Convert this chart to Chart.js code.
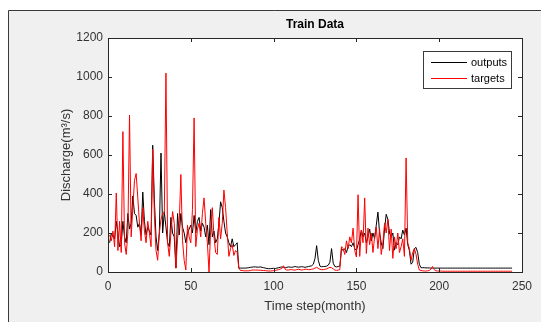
<!DOCTYPE html>
<html>
<head>
<meta charset="utf-8">
<script src="https://cdn.jsdelivr.net/npm/chart.js@4.4.1/dist/chart.umd.min.js"></script>
<style>
  html, body { margin: 0; padding: 0; background: #fff; }
  #wrap { width: 541px; height: 322px; }
</style>
</head>
<body>
<div id="wrap"><canvas id="myChart" width="541" height="322"></canvas></div>
<script>
// month index (x axis)
var months = [];
for (var i = 1; i <= 244; i++) months.push(i);

var xTicks = [0, 50, 100, 150, 200, 250];
var yTicks = [0, 200, 400, 600, 800, 1000, 1200];

// black line: model outputs
var outputs = [
  150,200,180,170,260,200,130,140,260,180,
  150,300,220,250,390,300,290,230,250,190,
  410,260,190,230,210,190,650,370,180,110,
  200,610,200,310,230,150,130,280,200,180,
  20,300,190,300,230,200,150,200,220,240,
  200,290,200,260,280,210,250,230,180,240,
  140,320,180,210,150,170,250,360,330,260,
  200,180,150,130,170,130,140,150,20,
  20,20,20,20,21,22,24,25,26,26,
  25,25,26,24,22,20,18,17,17,18,
  19,18,20,22,24,26,24,22,24,26,
  25,24,26,28,26,25,26,27,26,24,
  26,28,30,32,40,70,135,60,30,27,
  28,28,30,35,50,120,45,28,26,28,
  30,
  120,110,120,100,130,140,130,150,120,110,
  140,170,215,180,200,150,180,220,160,200,
  170,240,307,200,150,120,220,296,270,200,
  180,200,112,150,140,180,170,215,190,225,
  140,110,40,50,120,126,100,40,
  22,22,22,21,21,21,20,20,20,20,
  20,20,20,20,20,20,20,20,20,20,
  20,20,20,20,20,20,20,20,20,20,
  20,20,20,20,20,20,20,20,20,20,
  20,20,20,20,20,20,20,20,20,20,
  20,20,20,20,20,20
];

// red line: observed targets
var targets = [
  190,160,210,130,405,110,260,100,720,150,
  90,200,805,180,330,470,505,380,250,160,
  330,210,150,260,200,130,630,290,110,60,
  200,270,300,300,1020,150,80,200,310,250,
  20,170,250,500,160,60,10,240,180,150,
  320,790,130,220,250,180,300,380,250,150,
  0,220,330,180,100,90,280,170,250,420,
  330,200,80,120,140,85,110,100,20,
  8,8,6,6,6,6,8,10,10,10,
  10,9,9,8,8,7,6,5,5,6,
  7,8,10,12,15,18,32,14,10,10,
  12,12,10,10,12,14,12,10,12,14,
  14,12,12,14,16,20,24,18,14,12,
  12,14,16,20,24,22,16,10,8,10,
  12,
  130,120,90,160,120,180,150,225,110,77,
  396,80,215,150,380,95,225,140,200,100,
  180,230,120,220,90,150,250,200,270,110,
  220,70,180,120,200,100,130,170,80,585,
  150,120,60,100,120,90,40,10,
  8,6,5,5,6,8,14,28,12,6,
  5,5,5,4,4,4,4,4,4,4,
  4,4,4,4,4,4,4,4,4,4,
  4,4,4,4,4,4,4,4,4,4,
  4,4,4,4,4,4,4,4,4,4,
  4,4,4,4,4,4
];

var fontFamily = '"Liberation Sans", Arial, Helvetica, sans-serif';

// matlab-like figure: gray background, white axes box, inward ticks, boxed legend
var matlabLook = {
    id: 'matlabLook',
    beforeDraw: function(chart) {
        var ctx = chart.ctx, a = chart.chartArea;
        var w = chart.width, h = chart.height;
        ctx.save();
        ctx.fillStyle = '#ffffff';
        ctx.fillRect(0, 0, w, h);
        ctx.fillStyle = '#f0f0f0';
        ctx.fillRect(8, 10, w - 8, h - 10);
        ctx.strokeStyle = '#3a3a3a';
        ctx.lineWidth = 1;
        ctx.beginPath();
        ctx.moveTo(8.5, h);
        ctx.lineTo(8.5, 10.5);
        ctx.lineTo(w, 10.5);
        ctx.stroke();
        ctx.fillStyle = '#ffffff';
        ctx.fillRect(a.left, a.top, a.right - a.left, a.bottom - a.top);
        ctx.restore();
    },
    afterDatasetsDraw: function(chart) {
        var ctx = chart.ctx, a = chart.chartArea;
        var xs = chart.scales.x, ys = chart.scales.y;
        var tl = 4;
        ctx.save();
        ctx.strokeStyle = '#262626';
        ctx.lineWidth = 1;
        ctx.strokeRect(Math.round(a.left) + 0.5, Math.round(a.top) + 0.5,
            Math.round(a.right - a.left), Math.round(a.bottom - a.top));
        ctx.beginPath();
        xTicks.forEach(function(v) {
            var px = Math.round(xs.getPixelForValue(v)) + 0.5;
            ctx.moveTo(px, a.bottom); ctx.lineTo(px, a.bottom - tl);
            ctx.moveTo(px, a.top); ctx.lineTo(px, a.top + tl);
        });
        yTicks.forEach(function(v) {
            var py = Math.round(ys.getPixelForValue(v)) + 0.5;
            ctx.moveTo(a.left, py); ctx.lineTo(a.left + tl, py);
            ctx.moveTo(a.right, py); ctx.lineTo(a.right - tl, py);
        });
        ctx.stroke();
        ctx.restore();
    },
    afterDraw: function(chart) {
        var ctx = chart.ctx;
        var items = [chart.data.datasets[0], chart.data.datasets[1]];
        var bx = 423.5, by = 51.5, bw = 88, bh = 37;
        ctx.save();
        ctx.fillStyle = '#ffffff';
        ctx.fillRect(bx, by, bw, bh);
        ctx.strokeStyle = '#3a3a3a';
        ctx.lineWidth = 1;
        ctx.strokeRect(bx, by, bw, bh);
        ctx.font = '11px ' + fontFamily;
        ctx.textBaseline = 'middle';
        ctx.textAlign = 'left';
        items.forEach(function(ds, i) {
            var y = 62.5 + i * 16;
            ctx.strokeStyle = ds.borderColor;
            ctx.beginPath();
            ctx.moveTo(431, y);
            ctx.lineTo(467, y);
            ctx.stroke();
            ctx.fillStyle = '#000';
            ctx.fillText(ds.label, 471, y);
        });
        ctx.restore();
    }
};

var ctx = document.getElementById('myChart').getContext('2d');
var myChart = new Chart(ctx, {
    type: 'line',
    data: {
        labels: months,
        datasets: [
            {
                label: 'outputs',
                data: outputs,
                borderColor: '#000000',
                borderWidth: 1,
                pointRadius: 0,
                tension: 0,
                order: 1
            },
            {
                label: 'targets',
                data: targets,
                borderColor: '#ff0000',
                borderWidth: 1,
                pointRadius: 0,
                tension: 0,
                order: 0
            }
        ]
    },
    options: {
        responsive: false,
        animation: false,
        layout: { padding: { right: 19 } },
        plugins: {
            legend: { display: false },
            tooltip: { enabled: false },
            title: {
                display: true,
                text: 'Train Data',
                fullSize: false,
                color: '#000',
                font: { family: fontFamily, size: 12, weight: 'bold' },
                padding: { top: 17, bottom: 6.6 }
            }
        },
        scales: {
            x: {
                type: 'linear',
                min: 0,
                max: 250,
                afterFit: function(s) { s.height = 50; },
                afterBuildTicks: function(s) { s.ticks = xTicks.map(function(v) { return { value: v }; }); },
                grid: { display: false, drawTicks: false },
                border: { display: false },
                ticks: {
                    padding: 7,
                    color: '#333',
                    maxRotation: 0,
                    font: { family: fontFamily, size: 12 },
                    callback: function(v) { return String(v); }
                },
                title: {
                    display: true,
                    text: 'Time step(month)',
                    color: '#333',
                    font: { family: fontFamily, size: 13 },
                    padding: { top: 0, bottom: 8 }
                }
            },
            y: {
                type: 'linear',
                min: 0,
                max: 1200,
                afterFit: function(s) { s.width = 108; },
                afterBuildTicks: function(s) { s.ticks = yTicks.map(function(v) { return { value: v }; }); },
                grid: { display: false, drawTicks: false },
                border: { display: false },
                ticks: {
                    padding: 5,
                    color: '#333',
                    font: { family: fontFamily, size: 12 },
                    callback: function(v) { return String(v); }
                },
                title: {
                    display: true,
                    text: 'Discharge(m³/s)',
                    color: '#333',
                    font: { family: fontFamily, size: 13 },
                    padding: { top: 59, bottom: 0 }
                }
            }
        }
    },
    plugins: [matlabLook]
});
</script>
</body>
</html>
